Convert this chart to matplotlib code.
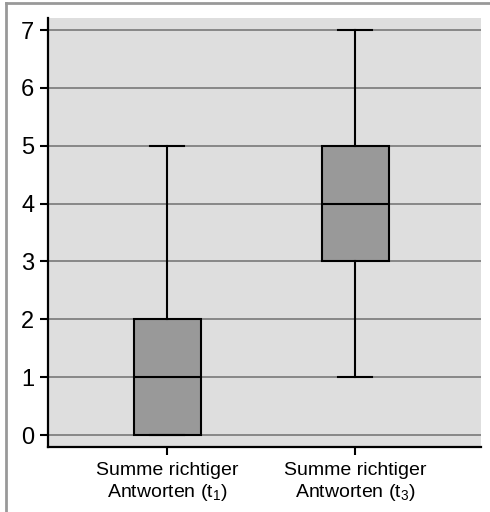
import matplotlib.pyplot as plt
from matplotlib.lines import Line2D

plt.rcParams['font.family'] = ['Liberation Sans', 'DejaVu Sans']
plt.rcParams['mathtext.fontset'] = 'custom'
plt.rcParams['mathtext.rm'] = 'Liberation Sans'
plt.rcParams['mathtext.it'] = 'Liberation Sans'

# five-number summaries per test
labels = ["Summe richtiger\nAntworten (t$_1$)", "Summe richtiger\nAntworten (t$_3$)"]
whislo = [0, 1]
q1 = [0, 3]
med = [1, 4]
q3 = [2, 5]
whishi = [5, 7]

stats = []
for i in range(len(labels)):
    stats.append(dict(label=labels[i], whislo=whislo[i], q1=q1[i], med=med[i],
                      q3=q3[i], whishi=whishi[i], fliers=[]))

fig = plt.figure(figsize=(4.9, 5.12), dpi=100)
ax = fig.add_axes([0.098, 0.127, 0.884, 0.838])
ax.set_facecolor('#dedede')

ax.bxp(stats, positions=[1, 2], widths=0.356, patch_artist=True, showfliers=False,
       boxprops=dict(facecolor='#999999', edgecolor='black', linewidth=1.5),
       medianprops=dict(color='black', linewidth=1.5),
       whiskerprops=dict(color='black', linewidth=1.5),
       capprops=dict(color='black', linewidth=1.5), capwidths=0.18, zorder=3)

ax.set_xlim(0.367, 2.67)
ax.set_ylim(-0.207, 7.21)
ax.set_yticks(range(0, 8))
ax.yaxis.grid(True, color='#808080', linewidth=1.3)
ax.set_axisbelow(True)

for s in ['top', 'right']:
    ax.spines[s].set_visible(False)
for s in ['left', 'bottom']:
    ax.spines[s].set_linewidth(1.6)
ax.tick_params(axis='y', labelsize=17, length=6, width=1.5, pad=4)
ax.tick_params(axis='x', labelsize=14, length=6, width=1.5, pad=5)

# grey frame along the top and left edges
fig.add_artist(Line2D([6 / 490, 6 / 490], [0, 1 - 3 / 512], color='#999999', linewidth=2))
fig.add_artist(Line2D([6 / 490, 1], [1 - 3 / 512, 1 - 3 / 512], color='#999999', linewidth=2))

fig.savefig('out.png', dpi=100)
